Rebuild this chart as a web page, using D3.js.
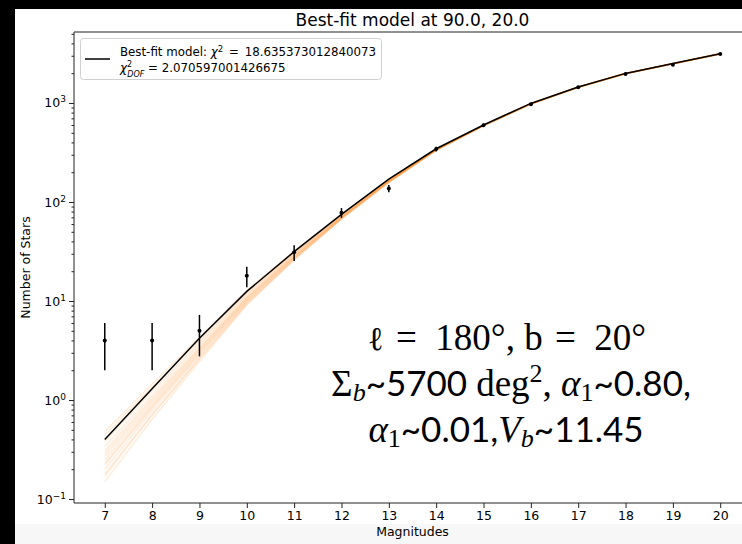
<!DOCTYPE html>
<html>
<head>
<meta charset="utf-8">
<script src="https://cdn.jsdelivr.net/npm/d3@7"></script>
<style>
  body { margin: 0; background: #fff; }
  text { font-family: "DejaVu Sans", sans-serif; fill: #000; }
</style>
</head>
<body>
<script>
// ---------------------- star counts vs magnitude, log scale ----------------------
let w = 742,
    h = 544;

// magnitude bins (x categories / tick labels)
let mags = [7, 8, 9, 10, 11, 12, 13, 14, 15, 16, 17, 18, 19, 20];

// observed counts + poisson errors
let observed = [4, 4, 5, 18, 31, 78, 137, 343, 595, 970, 1442, 1963, 2432, 3126];
let obsError = [2, 2, 2.24, 4.24, 5.57, 8.83, 11.7, 18.5, 24.4, 31.1, 38.0, 44.3, 49.3, 55.9];

// best-fit model curve
let bestFit = [0.40, 1.30, 4.2, 12.5, 31.5, 75, 170, 345, 600, 990, 1450, 1990, 2500, 3150];

// posterior sample curves (orange)
let samples = [
  [0.48, 1.45, 4.3, 12.8, 32.0, 75.0, 168, 342, 598, 985, 1445, 1985, 2495, 3140],
  [0.44, 1.35, 4.0, 12.2, 31.0, 74.0, 167, 340, 596, 984, 1446, 1988, 2498, 3145],
  [0.38, 1.22, 3.8, 11.8, 30.5, 73.0, 166, 341, 597, 986, 1447, 1986, 2496, 3142],
  [0.34, 1.12, 3.6, 11.4, 30.0, 72.0, 165, 339, 595, 983, 1444, 1984, 2494, 3138],
  [0.31, 1.05, 3.4, 11.0, 29.5, 71.5, 164, 338, 594, 982, 1443, 1983, 2493, 3136],
  [0.29, 1.00, 3.3, 10.8, 29.0, 71.0, 164, 339, 595, 984, 1446, 1987, 2497, 3141],
  [0.27, 0.95, 3.2, 10.6, 28.5, 70.5, 163, 337, 593, 981, 1442, 1982, 2492, 3135],
  [0.25, 0.90, 3.1, 10.4, 28.0, 70.0, 162, 336, 592, 980, 1441, 1981, 2491, 3133],
  [0.23, 0.86, 3.0, 10.2, 27.8, 69.5, 162, 337, 594, 983, 1445, 1985, 2495, 3139],
  [0.22, 0.83, 2.9, 10.0, 27.5, 69.0, 161, 335, 591, 979, 1440, 1980, 2490, 3132],
  [0.20, 0.78, 2.8, 9.8, 27.0, 68.5, 160, 334, 590, 978, 1439, 1979, 2489, 3130],
  [0.18, 0.72, 2.65, 9.5, 26.5, 68.0, 159, 335, 592, 981, 1443, 1984, 2494, 3137],
  [0.17, 0.70, 2.6, 9.4, 26.3, 67.5, 158, 333, 589, 977, 1438, 1978, 2488, 3128],
  [0.15, 0.64, 2.45, 9.1, 26.0, 67.0, 157, 332, 588, 976, 1437, 1977, 2487, 3126]
];

// y tick powers of ten
let yPowers = [-1, 0, 1, 2, 3];

let svg = d3.select("body")
            .append("svg")
            .attr("width", w)
            .attr("height", h);

// screenshot framing: black strips top/left, pale strip at bottom
svg.append("rect").attr("x", 0).attr("y", 0).attr("width", w).attr("height", h).attr("fill", "#fff");
svg.append("rect").attr("x", 15).attr("y", 524).attr("width", w).attr("height", 20).attr("fill", "#f7f7f7");
svg.append("rect").attr("x", 0).attr("y", 0).attr("width", w).attr("height", 9).attr("fill", "#000");
svg.append("rect").attr("x", 0).attr("y", 0).attr("width", 15).attr("height", h).attr("fill", "#000");

let pLeft = 74, pRight = 751, pTop = 32, pBottom = 503;

let x = d3.scaleLinear()
          .domain([6.35, 20.65])
          .range([pLeft, pRight]);

let y = d3.scaleLog()
          .domain([Math.pow(10, -1.04), Math.pow(10, 3.717)])
          .range([pBottom, pTop]);

let line = d3.line()
             .x((d, i) => x(mags[i]))
             .y(d => y(d));

// orange sample curves
svg.append("g")
   .selectAll("path")
   .data(samples)
   .enter()
   .append("path")
     .attr("d", line)
     .attr("fill", "none")
     .attr("stroke", "#ff7f0e")
     .attr("stroke-opacity", 0.15)
     .attr("stroke-width", 1.5);

// best fit
svg.append("path")
   .attr("d", line(bestFit))
   .attr("fill", "none")
   .attr("stroke", "#000")
   .attr("stroke-width", 1.5);

// error bars + points
let pts = svg.append("g")
   .selectAll("g")
   .data(observed)
   .enter()
   .append("g");

pts.append("line")
   .attr("x1", (d, i) => x(mags[i]))
   .attr("x2", (d, i) => x(mags[i]))
   .attr("y1", (d, i) => y(d - obsError[i]))
   .attr("y2", (d, i) => y(d + obsError[i]))
   .attr("stroke", "#000")
   .attr("stroke-width", 1.5);

pts.append("circle")
   .attr("cx", (d, i) => x(mags[i]))
   .attr("cy", d => y(d))
   .attr("r", 2)
   .attr("fill", "#000");

// spines
svg.append("line").attr("x1", pLeft).attr("x2", pLeft).attr("y1", pTop).attr("y2", pBottom)
   .attr("stroke", "#222").attr("stroke-width", 1);
svg.append("line").attr("x1", pLeft).attr("x2", w).attr("y1", pBottom).attr("y2", pBottom)
   .attr("stroke", "#222").attr("stroke-width", 1);
svg.append("line").attr("x1", pLeft).attr("x2", w).attr("y1", pTop).attr("y2", pTop)
   .attr("stroke", "#222").attr("stroke-width", 1);

// x axis
let xAxis = svg.append("g")
   .attr("transform", `translate(0,${pBottom})`)
   .call(d3.axisBottom(x).tickValues(mags).tickSize(5).tickPadding(3).tickFormat(d3.format("d")));
xAxis.select(".domain").remove();
xAxis.selectAll("text").attr("font-size", "12.5px").attr("font-family", "DejaVu Sans");

// y axis minor ticks
let minor = y.ticks().filter(d => Math.abs(Math.log10(d) - Math.round(Math.log10(d))) > 1e-6);
let yMinor = svg.append("g")
   .attr("transform", `translate(${pLeft},0)`)
   .call(d3.axisLeft(y).tickValues(minor).tickSize(2.5).tickFormat(""));
yMinor.select(".domain").remove();

// y axis major ticks with 10^n labels
let yMajor = svg.append("g")
   .attr("transform", `translate(${pLeft},0)`)
   .call(d3.axisLeft(y).tickValues(yPowers.map(p => Math.pow(10, p))).tickSize(5).tickPadding(3).tickFormat(""));
yMajor.select(".domain").remove();
yMajor.selectAll(".tick").each(function(d, i) {
  let t = d3.select(this).select("text")
            .attr("font-size", "12.5px")
            .attr("font-family", "DejaVu Sans");
  t.append("tspan").text("10");
  t.append("tspan").attr("dy", "-5").attr("font-size", "9px")
   .text(yPowers[i] < 0 ? "\u2212" + Math.abs(yPowers[i]) : yPowers[i]);
});

svg.selectAll(".tick line").attr("stroke", "#222");

// title + axis labels
svg.append("text")
   .attr("x", (pLeft + pRight) / 2)
   .attr("y", 26)
   .attr("text-anchor", "middle")
   .attr("font-size", "17px")
   .text("Best-fit model at 90.0, 20.0");

svg.append("text")
   .attr("x", (pLeft + pRight) / 2)
   .attr("y", 536)
   .attr("text-anchor", "middle")
   .attr("font-size", "12.5px")
   .text("Magnitudes");

svg.append("text")
   .attr("transform", `translate(30,${(pTop + pBottom) / 2}) rotate(-90)`)
   .attr("text-anchor", "middle")
   .attr("font-size", "12.5px")
   .text("Number of Stars");

// legend
let lg = svg.append("g");
lg.append("rect")
  .attr("x", 80.5).attr("y", 38.5).attr("width", 301).attr("height", 41).attr("rx", 3)
  .attr("fill", "#fff").attr("stroke", "#d0d0d0");
lg.append("line")
  .attr("x1", 85).attr("x2", 110).attr("y1", 59).attr("y2", 59)
  .attr("stroke", "#000").attr("stroke-width", 1.5);
let l1 = lg.append("text").attr("x", 120).attr("y", 56).attr("font-size", "11.8px");
l1.append("tspan").text("Best-fit model: ");
l1.append("tspan").attr("font-style", "italic").text("\u03c7");
l1.append("tspan").attr("dy", -4.5).attr("font-size", "8.5px").text("2");
l1.append("tspan").attr("dy", 4.5).text("\u2002=\u200218.635373012840073");
// second row: chi^2 with DOF subscript stacked under the 2
let l2 = lg.append("text").attr("x", 120).attr("y", 72).attr("font-size", "11.8px");
l2.append("tspan").attr("font-style", "italic").text("\u03c7");
l2.append("tspan").attr("dy", -5).attr("font-size", "8px").text("2");
l2.append("tspan").attr("dx", -4.8).attr("dy", 10).attr("font-size", "8px").attr("font-style", "italic").text("DOF");
l2.append("tspan").attr("dy", -5).text(" = 2.070597001426675");

// big annotation text
let styles = {
  rm:    { family: "Liberation Serif", size: 37, italic: false, shift: 0 },
  ell:   { family: "DejaVu Serif",     size: 33, italic: false, shift: 0 },
  it:    { family: "Liberation Serif", size: 37, italic: true,  shift: 0 },
  sf:    { family: "Lato",             size: 35, italic: false, shift: 0 },
  sub:   { family: "Liberation Serif", size: 26, italic: false, shift: 5 },
  itSub: { family: "Liberation Serif", size: 26, italic: true,  shift: 5 },
  sup:   { family: "Liberation Serif", size: 26, italic: false, shift: -14 }
};

let annotation = [
  [["\u2113", "ell"], ["\u2004=\u2002180\u00b0, b\u2004=\u200220\u00b0", "rm"]],
  [["\u03a3", "rm"], ["b", "itSub"], ["~5700 ", "sf"], ["deg", "rm"], ["2", "sup"], [", ", "rm"],
   ["\u03b1", "it"], ["1", "sub"], ["~0.80,", "sf"]],
  [["\u03b1", "it"], ["1", "sub"], ["~0.01,", "sf"], ["V", "it"], ["b", "itSub"], ["~11.45", "sf"]]
];
let baselines = [350, 396, 442];
let centers = [507, 511, 506];

annotation.forEach((parts, k) => {
  let t = svg.append("text")
             .attr("x", centers[k])
             .attr("y", baselines[k])
             .attr("text-anchor", "middle");
  let cur = 0;
  parts.forEach(p => {
    let s = styles[p[1]];
    t.append("tspan")
     .attr("dy", s.shift - cur)
     .attr("font-family", s.family)
     .attr("font-size", s.size + "px")
     .attr("font-style", s.italic ? "italic" : "normal")
     .text(p[0]);
    cur = s.shift;
  });
});
</script>
</body>
</html>
